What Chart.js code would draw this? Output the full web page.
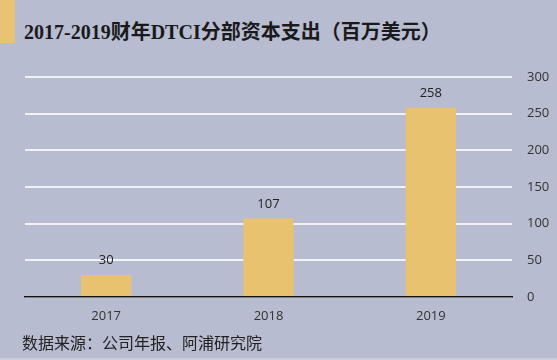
<!DOCTYPE html>
<html><head><meta charset="utf-8">
<script src="https://cdn.jsdelivr.net/npm/chart.js@4/dist/chart.umd.min.js"></script>
<style>
html,body{margin:0;padding:0;background:#b7bcd1;}
#wrap{position:relative;width:557px;height:360px;overflow:hidden;background:#b7bcd1;}
#accent{position:absolute;left:0;top:0;width:15px;height:43px;background:#e9c373;}
#title{position:absolute;left:24px;top:16px;font:bold 20px "Liberation Serif","Noto Sans CJK SC",serif;color:#1a1a1a;white-space:nowrap;}
#src{position:absolute;left:22px;top:330px;font:16px "Noto Sans CJK SC",sans-serif;color:#222;white-space:nowrap;}
#line{position:absolute;left:0;top:358px;width:557px;height:2px;background:#c9ccd9;}
#cv{position:absolute;left:0;top:0;}
</style></head>
<body><div id="wrap">
<div id="accent"></div>
<div id="title">2017-2019财年DTCI分部资本支出（百万美元）</div>
<canvas id="cv" width="557" height="360"></canvas>
<div id="src">数据来源：公司年报、阿浦研究院</div>
<div id="line"></div>
</div>
<script>
const categories = ['2017','2018','2019'];
const capex = [30, 107, 258];
const yTicks = [0, 50, 100, 150, 200, 250, 300];

const labelPlugin = {
  id: 'valLabels',
  afterDatasetsDraw(chart) {
    const ctx = chart.ctx;
    const meta = chart.getDatasetMeta(0);
    ctx.save();
    ctx.font = '13px "Open Sans", "DejaVu Sans", sans-serif';
    ctx.fillStyle = '#222';
    ctx.textAlign = 'center';
    ctx.textBaseline = 'bottom';
    meta.data.forEach((bar, i) => {
      ctx.fillText(String(capex[i]), bar.x, bar.y - 8);
    });
    ctx.restore();
  }
};

new Chart(document.getElementById('cv'), {
  type: 'bar',
  data: {
    labels: categories,
    datasets: [{
      data: capex,
      backgroundColor: '#e8c26f',
      borderWidth: 0,
      barPercentage: 0.31,
      categoryPercentage: 1.0
    }]
  },
  options: {
    responsive: false,
    animation: false,
    layout: { padding: { left: 25, right: 0, top: 77, bottom: 30 } },
    plugins: { legend: { display: false }, tooltip: { enabled: false } },
    scales: {
      x: {
        grid: { display: false, drawTicks: false },
        border: { display: true, color: '#111', width: 1.5 },
        ticks: { color: '#333', font: { family: '"Open Sans", "DejaVu Sans", sans-serif', size: 13 }, padding: 11 },
        afterFit(s) { s.height = 33; }
      },
      y: {
        position: 'right',
        min: 0, max: 300,
        afterBuildTicks(s) { s.ticks = yTicks.map(v => ({ value: v })); },
        grid: { color: '#f2f2f4', lineWidth: 2, drawTicks: false },
        border: { display: false },
        ticks: { color: '#333', font: { family: '"Open Sans", "DejaVu Sans", sans-serif', size: 13 }, padding: 15, crossAlign: 'near' },
        afterFit(s) { s.width = 45; }
      }
    }
  },
  plugins: [labelPlugin]
});
</script>
</body></html>
